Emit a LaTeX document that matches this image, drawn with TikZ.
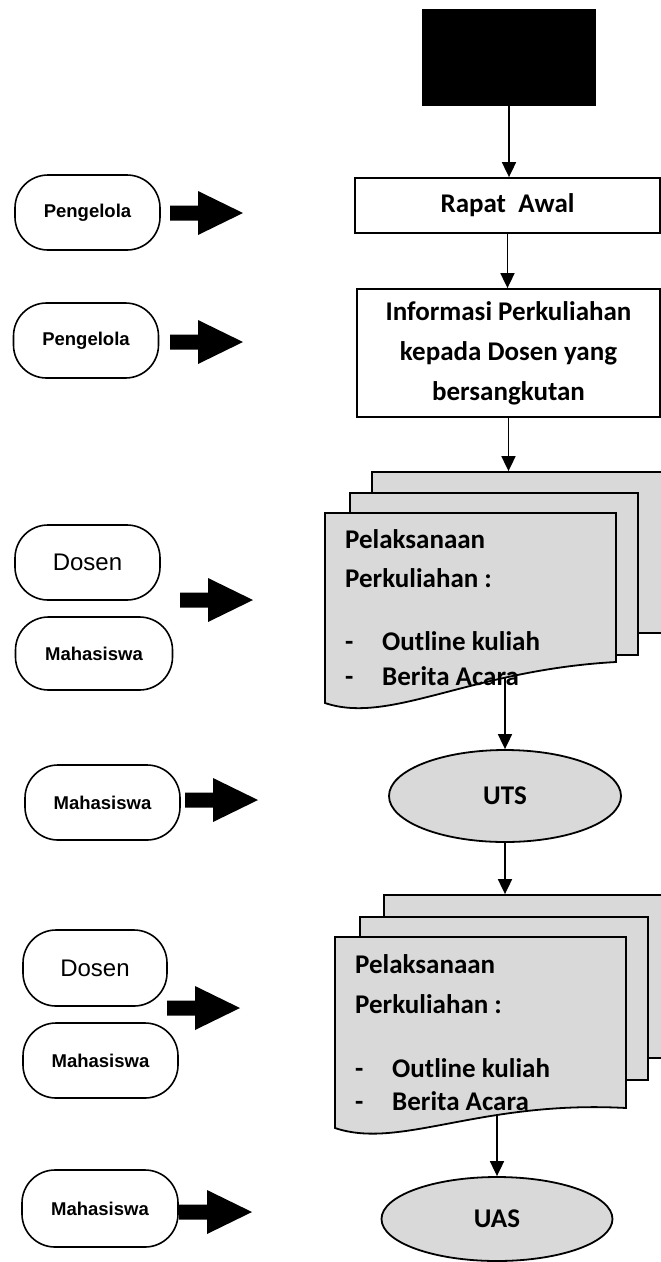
\documentclass[tikz,border=0pt]{standalone}
\usepackage{fontspec}
\setmainfont{Carlito}
\newfontfamily\arialfont{Liberation Sans}
\usetikzlibrary{arrows.meta,shapes.geometric}
\begin{document}
\begin{tikzpicture}[x=1pt,y=-1pt,
 box/.style={draw, line width=1.8pt, font=\bfseries\fontsize{27}{40}\selectfont, inner sep=0pt, align=center},
 actor/.style={draw, line width=1.6pt, rounded corners=33pt, font=\arialfont\bfseries\fontsize{18.5}{22}\selectfont, inner sep=0pt},
 actorbig/.style={actor, font=\arialfont\fontsize{24}{28}\selectfont},
 sheet/.style={draw, line width=1.8pt, fill=black!15, inner sep=0pt},
 flow/.style={line width=1.8pt, -{Triangle[length=15pt,width=14pt]}},
 doctext/.style={font=\bfseries\fontsize{27}{32}\selectfont, inner sep=0pt, anchor=base west},
 oval/.style={ellipse, draw, line width=1.8pt, fill=black!15, inner sep=0pt, font=\bfseries\fontsize{27}{32}\selectfont},
 fatarrow/.pic={\fill (0,-7.5) -- (28,-7.5) -- (28,-22) -- (73,0) -- (28,22) -- (28,7.5) -- (0,7.5) -- cycle;}
]
\useasboundingbox (0,0) rectangle (661,1262);
\clip (0,0) rectangle (661,1262);

% main column
\node[box, fill=black, minimum width=172pt, minimum height=95pt] (start) at (509,57.5) {};
\node[box, minimum width=305pt, minimum height=55pt] (rapat) at (507.5,205.5) {Rapat\ \ Awal};
\node[box, minimum width=303pt, minimum height=128pt] (info) at (508.5,353) {Informasi Perkuliahan\\kepada Dosen yang\\bersangkutan};

% document stack 1
\node[sheet, minimum width=310pt, minimum height=161pt] (d1back) at (527,552.5) {};
\node[sheet, minimum width=288pt, minimum height=162pt] (d1mid) at (494,574) {};
\draw[sheet] (325,513) -- (616,513) -- (616,662) .. controls (470,670) and (390,725) .. (325,703) -- cycle;
\coordinate (d1bot) at (506,678);
\node[doctext] (d1a) at (345,548) {Pelaksanaan};
\node[doctext] (d1b) at (345,587) {Perkuliahan :};
\node[doctext] (d1c) at (345,650) {\makebox[37pt][l]{-}Outline kuliah};
\node[doctext] (d1d) at (345,685) {\makebox[37pt][l]{-}Berita Acara};

\node[oval, minimum width=232pt, minimum height=92pt] (uts) at (505,796) {UTS};

% document stack 2
\node[sheet, minimum width=306pt, minimum height=163pt] (d2back) at (537,976.5) {};
\node[sheet, minimum width=288pt, minimum height=163pt] (d2mid) at (504,998.5) {};
\draw[sheet] (335,937) -- (626,937) -- (626,1108) .. controls (480,1100) and (400,1150) .. (335,1128) -- cycle;
\coordinate (d2bot) at (497,1115);
\node[doctext] (d2a) at (355,973) {Pelaksanaan};
\node[doctext] (d2b) at (355,1013) {Perkuliahan :};
\node[doctext] (d2c) at (355,1077) {\makebox[37pt][l]{-}Outline kuliah};
\node[doctext] (d2d) at (355,1110) {\makebox[37pt][l]{-}Berita Acara};

\node[oval, minimum width=231pt, minimum height=84pt] (uas) at (497,1219) {UAS};

% connectors
\draw[flow] (start.south) -- (start.south |- rapat.north);
\draw[flow] (rapat.south) -- (rapat.south |- info.north);
\draw[flow] (info.south) -- (info.south |- d1back.north);
\draw[flow] (uts.north |- d1bot) -- (uts.north);
\draw[flow] (uts.south) -- (uts.south |- d2back.north);
\draw[flow] (d2bot) -- (uas.north);

% actors
\node[actor, minimum width=145pt, minimum height=75pt] (peng1) at (87.5,212.5) {Pengelola};
\node[actor, minimum width=145pt, minimum height=75pt] (peng2) at (86,340.5) {Pengelola};
\node[actorbig, minimum width=145pt, minimum height=75pt] (dos1) at (87.5,562.5) {Dosen};
\node[actor, minimum width=157pt, minimum height=73pt] (mah1) at (94,653.5) {Mahasiswa};
\node[actor, minimum width=155pt, minimum height=75pt] (mah2) at (102.5,802.5) {Mahasiswa};
\node[actorbig, minimum width=144pt, minimum height=76pt] (dos2) at (95,968) {Dosen};
\node[actor, minimum width=155pt, minimum height=75pt] (mah3) at (100.5,1060.5) {Mahasiswa};
\node[actor, minimum width=156pt, minimum height=77pt] (mah4) at (100,1208.5) {Mahasiswa};

% fat arrows
\pic at (170,213) {fatarrow};
\pic at (170,342) {fatarrow};
\pic at (180,600) {fatarrow};
\pic at (185,800) {fatarrow};
\pic at (167,1008) {fatarrow};
\pic at (179,1212) {fatarrow};
\end{tikzpicture}
\end{document}
